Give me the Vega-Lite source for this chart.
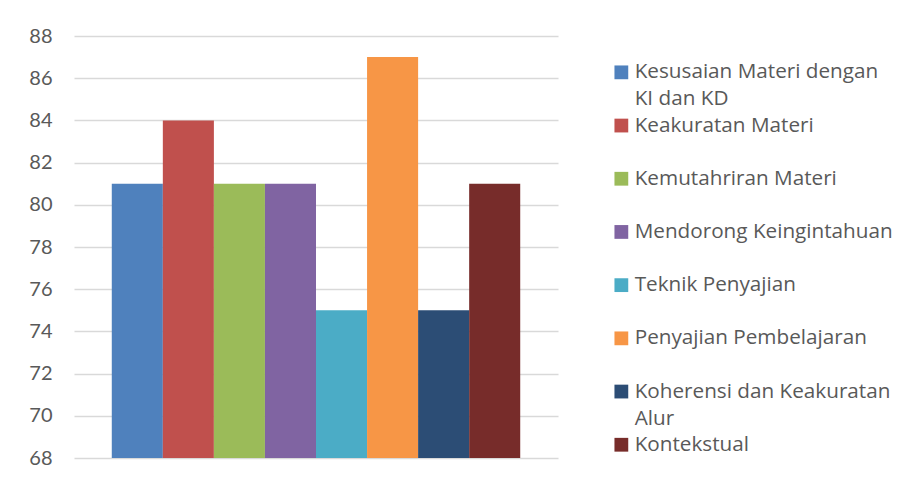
{
  "$schema": "https://vega.github.io/schema/vega-lite/v6.json",
  "width": 484,
  "height": 422,
  "autosize": {"type": "none"},
  "padding": {"left": 74, "top": 36, "right": 344, "bottom": 25},
  "background": "white",
  "data": {
    "values": [
      {"kategori": "Kesusaian Materi dengan KI dan KD", "nilai": 81},
      {"kategori": "Keakuratan Materi", "nilai": 84},
      {"kategori": "Kemutahriran Materi", "nilai": 81},
      {"kategori": "Mendorong Keingintahuan", "nilai": 81},
      {"kategori": "Teknik Penyajian", "nilai": 75},
      {"kategori": "Penyajian Pembelajaran", "nilai": 87},
      {"kategori": "Koherensi dan Keakuratan Alur", "nilai": 75},
      {"kategori": "Kontekstual", "nilai": 81}
    ]
  },
  "mark": {"type": "bar", "clip": true},
  "encoding": {
    "x": {
      "field": "kategori",
      "type": "nominal",
      "sort": null,
      "scale": {"paddingInner": 0, "paddingOuter": 0.74},
      "axis": null
    },
    "y": {
      "field": "nilai",
      "type": "quantitative",
      "scale": {"domain": [68, 88], "zero": false, "nice": false},
      "axis": {
        "values": [68, 70, 72, 74, 76, 78, 80, 82, 84, 86, 88],
        "title": null,
        "domain": false,
        "ticks": false,
        "labelPadding": 22,
        "labelFont": "Lato",
        "labelFontSize": 20,
        "labelColor": "#595959",
        "gridColor": "#d9d9d9",
        "gridWidth": 1.3
      }
    },
    "color": {
      "field": "kategori",
      "type": "nominal",
      "sort": null,
      "scale": {
        "range": ["#4F81BD", "#C0504D", "#9BBB59", "#8064A2", "#4BACC6", "#F79646", "#2C4D75", "#772C2A"]
      },
      "legend": {
        "title": null,
        "orient": "none",
        "legendX": 537,
        "legendY": 26,
        "padding": 0,
        "gridAlign": "all",
        "symbolType": "square",
        "symbolSize": 190,
        "symbolStrokeWidth": 0,
        "symbolOpacity": 1,
        "labelFont": "Open Sans",
        "labelFontSize": 20.7,
        "labelColor": "#595959",
        "labelOffset": 3,
        "labelLimit": 400,
        "rowPadding": 4.2,
        "labelExpr": "datum.label == 'Kesusaian Materi dengan KI dan KD' ? ['Kesusaian Materi dengan', 'KI dan KD'] : datum.label == 'Koherensi dan Keakuratan Alur' ? ['Koherensi dan Keakuratan', 'Alur'] : datum.label"
      }
    }
  },
  "config": {
    "view": {"stroke": null},
    "style": {"guide-label": {"lineHeight": 27}}
  }
}
